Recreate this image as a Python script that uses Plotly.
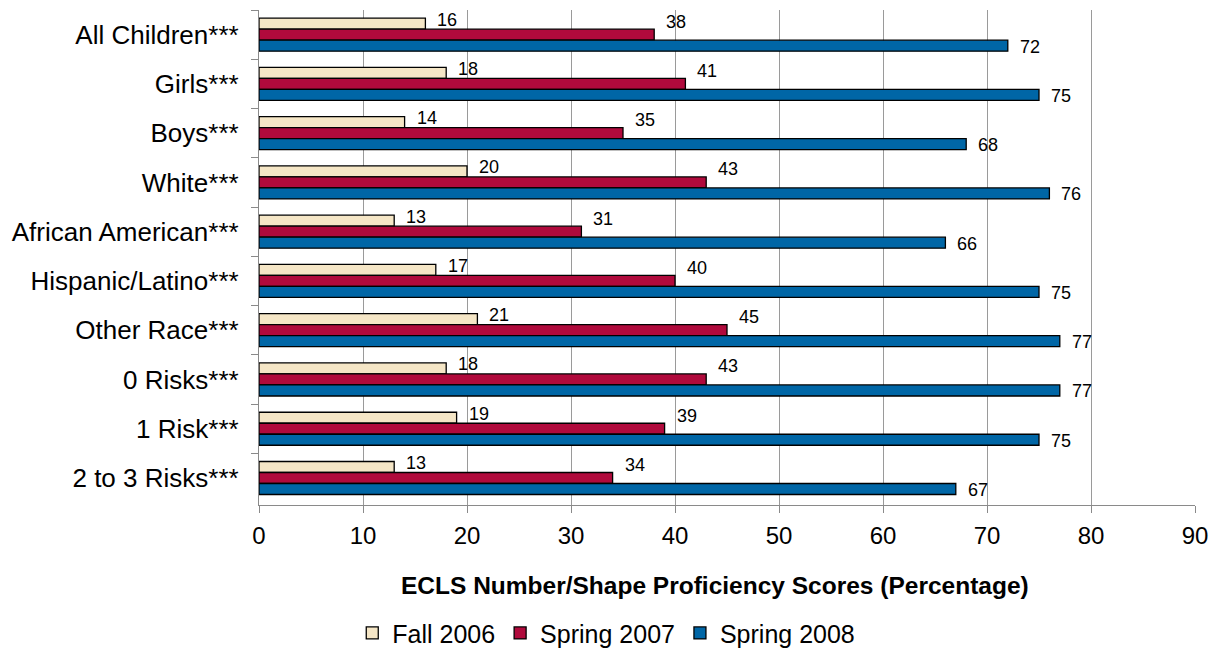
import plotly.graph_objects as go

categories = ["All Children***", "Girls***", "Boys***", "White***", "African American***",
              "Hispanic/Latino***", "Other Race***", "0 Risks***", "1 Risk***", "2 to 3 Risks***"]
fall_2006 = [16, 18, 14, 20, 13, 17, 21, 18, 19, 13]
spring_2007 = [38, 41, 35, 43, 31, 40, 45, 43, 39, 34]
spring_2008 = [72, 75, 68, 76, 66, 75, 77, 77, 75, 67]
series_names = ["Fall 2006", "Spring 2007", "Spring 2008"]
x_ticks = [0, 10, 20, 30, 40, 50, 60, 70, 80, 90]

colors = ["#F5E6C6", "#B00A3C", "#0066A6"]
label_yshift = [15, 13, -12]
FONT = "Liberation Sans, Arial, sans-serif"

fig = go.Figure()
series = [fall_2006, spring_2007, spring_2008]
for name, vals, col in zip(series_names, series, colors):
    fig.add_trace(go.Bar(
        y=categories, x=vals, name=name, orientation="h",
        marker=dict(color=col, line=dict(color="#000000", width=1.3)),
    ))

annotations = []
for vals, ys in zip(series, label_yshift):
    for c, v in zip(categories, vals):
        annotations.append(dict(
            x=v, y=c, xref="x", yref="y", text=str(v), showarrow=False,
            xanchor="left", yanchor="middle", xshift=10, yshift=ys,
            font=dict(family=FONT, size=18, color="#000000"),
        ))

annotations.append(dict(
    x=0.487, y=-0.162, xref="paper", yref="paper",
    text="<b>ECLS Number/Shape Proficiency Scores (Percentage)</b>",
    showarrow=False, xanchor="center", yanchor="middle",
    font=dict(family=FONT, size=24.5, color="#000000"),
))

fig.update_layout(
    width=1219, height=660,
    margin=dict(l=251, r=32, t=2, b=163, autoexpand=False),
    paper_bgcolor="white", plot_bgcolor="white",
    barmode="group", bargap=0.33, bargroupgap=0,
    font=dict(family=FONT, size=24, color="#000000"),
    showlegend=True,
    legend=dict(orientation="h", x=0.371, y=-0.259, xanchor="center", yanchor="middle",
                font=dict(family=FONT, size=25, color="#000000"), traceorder="normal",
                itemwidth=30),
    annotations=annotations,
)
fig.update_xaxes(
    range=[0, 90], tickvals=x_ticks, showgrid=True, gridcolor="#9A9A9A", gridwidth=1,
    showline=True, linecolor="#8A8A8A", linewidth=1.3,
    ticks="outside", ticklen=7, tickcolor="#8A8A8A", tickwidth=1.3,
    tickfont=dict(family=FONT, size=24, color="#000000"), ticklabelstandoff=2,
    zeroline=False, automargin=False,
)
fig.update_yaxes(
    autorange="reversed", type="category", tickson="boundaries",
    showline=True, linecolor="#8A8A8A", linewidth=1.3,
    ticks="outside", ticklen=7, tickcolor="#8A8A8A", tickwidth=1.3,
    tickfont=dict(family=FONT, size=26, color="#000000"), ticklabelstandoff=14,
    showgrid=False, automargin=False,
)

fig.write_html("out.html")
